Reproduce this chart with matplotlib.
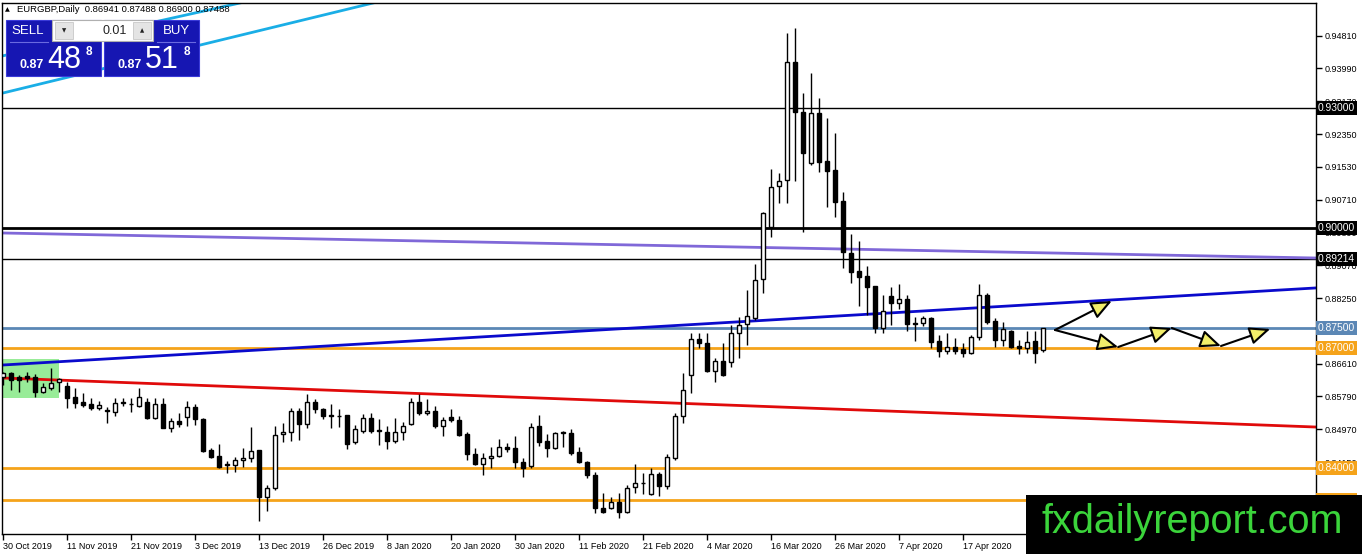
import numpy as np
import pandas as pd
import matplotlib
matplotlib.use("Agg")
import matplotlib.pyplot as plt
from matplotlib.patches import Rectangle
from matplotlib.transforms import blended_transform_factory

plt.rcParams['font.family'] = ['Liberation Sans', 'DejaVu Sans']

# ---------------- data ----------------
opens = [0.86275, 0.86375, 0.86275, 0.863, 0.86275, 0.859, 0.86, 0.8615, 0.8605, 0.85775,
         0.8565, 0.856, 0.855, 0.8545, 0.854, 0.8565, 0.856, 0.8555, 0.8565, 0.8525,
         0.856, 0.85, 0.85175, 0.85275, 0.85525, 0.85225, 0.8445, 0.843, 0.841, 0.84075,
         0.842, 0.8425, 0.8445, 0.83275, 0.835, 0.8485, 0.849, 0.85425, 0.851, 0.8565,
         0.85475, 0.85325, 0.85312, 0.85325, 0.8465, 0.84925, 0.8525, 0.8495, 0.849, 0.84675,
         0.849, 0.851, 0.8565, 0.85375, 0.85425, 0.8505, 0.85275, 0.852, 0.8485, 0.8435,
         0.841, 0.8425, 0.843, 0.84525, 0.845, 0.8415, 0.8405, 0.8505, 0.84675, 0.845,
         0.84875, 0.84875, 0.844, 0.8415, 0.83825, 0.83, 0.83, 0.8315, 0.829, 0.83525,
         0.83625, 0.8335, 0.8385, 0.8355, 0.8425, 0.853, 0.86325, 0.87225, 0.87125, 0.86425,
         0.86675, 0.8665, 0.87375, 0.876, 0.8775, 0.88725, 0.90025, 0.9105, 0.912, 0.9415,
         0.929, 0.91625, 0.92875, 0.91675, 0.9145, 0.90675, 0.89375, 0.88925, 0.888, 0.8855,
         0.875, 0.883, 0.88125, 0.88225, 0.87625, 0.87625, 0.8775, 0.87175, 0.86925, 0.87025,
         0.86975, 0.86875, 0.87275, 0.88325, 0.87675, 0.872, 0.87425, 0.8705, 0.87, 0.87175,
         0.86941]
highs = [0.864, 0.864, 0.86325, 0.864, 0.8635, 0.86125, 0.865, 0.8625, 0.8615, 0.86,
         0.85875, 0.8575, 0.85675, 0.85525, 0.8575, 0.8575, 0.8575, 0.86, 0.8575, 0.8575,
         0.8575, 0.8525, 0.85375, 0.85675, 0.856, 0.8525, 0.845, 0.846, 0.84175, 0.84275,
         0.845, 0.85025, 0.8445, 0.83575, 0.8505, 0.85125, 0.855, 0.855, 0.8585, 0.85725,
         0.855, 0.856, 0.85475, 0.85325, 0.85075, 0.8535, 0.85375, 0.85225, 0.8505, 0.8525,
         0.8515, 0.8575, 0.8585, 0.85725, 0.8555, 0.85275, 0.85475, 0.853, 0.849, 0.845,
         0.84375, 0.84525, 0.84725, 0.84625, 0.848, 0.8425, 0.85125, 0.85325, 0.8485, 0.849,
         0.84925, 0.84975, 0.84525, 0.84175, 0.839, 0.83375, 0.83275, 0.83375, 0.83575, 0.841,
         0.83875, 0.84, 0.839, 0.8435, 0.85375, 0.86375, 0.87375, 0.87375, 0.87375, 0.8675,
         0.87125, 0.87575, 0.87775, 0.8845, 0.891, 0.904, 0.91475, 0.91375, 0.94875, 0.95,
         0.93375, 0.93875, 0.9325, 0.9275, 0.92375, 0.909, 0.8985, 0.89675, 0.8905, 0.8855,
         0.88325, 0.88525, 0.886, 0.88325, 0.87775, 0.878, 0.87775, 0.87325, 0.87375, 0.8725,
         0.87125, 0.87325, 0.886, 0.88375, 0.8775, 0.8765, 0.8745, 0.872, 0.87425, 0.87425,
         0.87488]
lows = [0.86075, 0.8595, 0.859, 0.8615, 0.85775, 0.85875, 0.8595, 0.859, 0.855, 0.855,
        0.85525, 0.8545, 0.8545, 0.85125, 0.853, 0.8555, 0.854, 0.85525, 0.85225, 0.85225,
        0.85, 0.849, 0.85025, 0.8505, 0.85075, 0.844, 0.8425, 0.84, 0.83875, 0.839,
        0.84025, 0.8415, 0.82675, 0.82925, 0.8345, 0.8465, 0.84675, 0.847, 0.85, 0.85375,
        0.85225, 0.85, 0.85025, 0.84475, 0.846, 0.84875, 0.84875, 0.84575, 0.84475, 0.84625,
        0.847, 0.85075, 0.85325, 0.85325, 0.85, 0.848, 0.8515, 0.848, 0.842, 0.84075,
        0.83825, 0.84, 0.84275, 0.844, 0.84, 0.83775, 0.84, 0.8455, 0.84275, 0.84475,
        0.84525, 0.84325, 0.84125, 0.8375, 0.82875, 0.82875, 0.82975, 0.8275, 0.82875, 0.83375,
        0.8335, 0.83325, 0.833, 0.83475, 0.842, 0.85125, 0.85875, 0.87, 0.864, 0.8615,
        0.863, 0.86525, 0.8675, 0.87075, 0.877, 0.88375, 0.89775, 0.90625, 0.90625, 0.91175,
        0.899, 0.91575, 0.914, 0.90525, 0.90275, 0.89, 0.88625, 0.8805, 0.87825, 0.87375,
        0.87375, 0.87575, 0.87975, 0.87425, 0.87175, 0.8755, 0.87, 0.86775, 0.8685, 0.8685,
        0.86775, 0.8685, 0.872, 0.876, 0.87025, 0.8705, 0.87, 0.8685, 0.86875, 0.86625,
        0.869]
closes = [0.86375, 0.862, 0.862, 0.8625, 0.859, 0.86025, 0.86125, 0.86225, 0.8575, 0.85625,
          0.85575, 0.855, 0.85575, 0.85425, 0.85625, 0.85637, 0.85595, 0.85775, 0.8525, 0.856,
          0.85, 0.85175, 0.851, 0.85525, 0.85225, 0.84425, 0.84275, 0.84025, 0.84075, 0.842,
          0.8425, 0.84425, 0.83275, 0.835, 0.84825, 0.849, 0.85425, 0.851, 0.8565, 0.85475,
          0.853, 0.853, 0.853, 0.846, 0.84975, 0.8525, 0.84925, 0.84925, 0.84675, 0.849,
          0.8505, 0.8565, 0.85375, 0.85425, 0.8505, 0.852, 0.852, 0.84825, 0.8435, 0.841,
          0.8425, 0.843, 0.84525, 0.84475, 0.8415, 0.84, 0.85025, 0.8465, 0.845, 0.84875,
          0.84888, 0.84375, 0.8415, 0.83825, 0.83, 0.829, 0.8315, 0.829, 0.835, 0.83625,
          0.83637, 0.8385, 0.8355, 0.84275, 0.853, 0.8595, 0.87225, 0.87125, 0.86425, 0.86675,
          0.86325, 0.87375, 0.87575, 0.878, 0.887, 0.90375, 0.91025, 0.91175, 0.9415, 0.929,
          0.91875, 0.92875, 0.9165, 0.91425, 0.9065, 0.894, 0.889, 0.88775, 0.88525, 0.875,
          0.87925, 0.88125, 0.88225, 0.876, 0.876, 0.8775, 0.8715, 0.86925, 0.87025, 0.86925,
          0.86875, 0.87275, 0.88325, 0.8765, 0.872, 0.87475, 0.87025, 0.87, 0.8715, 0.86875,
          0.87488]

holidays = ['2019-12-25', '2020-01-01']
y_ticks = [0.84150, 0.84970, 0.85790, 0.86610, 0.87430, 0.88250, 0.89070,
           0.89890, 0.90710, 0.91530, 0.92350, 0.93170, 0.93990, 0.94810]

# horizontal levels: (price, colour, width, label, label face)
levels = [(0.93000, 'black', 1.0, '0.93000', 'black'),
          (0.90000, 'black', 2.0, '0.90000', 'black'),
          (0.89214, 'black', 1.0, '0.89214', 'black'),
          (0.87500, '#5b87b5', 2.0, '0.87500', '#5b87b5'),
          (0.87000, '#f5a31a', 2.0, '0.87000', '#f5a31a'),
          (0.84000, '#f5a31a', 2.0, '0.84000', '#f5a31a'),
          (0.83200, '#f5a31a', 2.0, '0.83200', '#f5a31a')]

# trend lines: (bar0, price0, bar1, price1, colour, width)
trendlines = [(0, 0.86575, 164, 0.88500, '#0a0acc', 2.0),
              (0, 0.86250, 164, 0.85025, '#e00a0a', 2.0),
              (0, 0.89875, 164, 0.89250, '#8068d8', 2.0),
              (0, 0.93375, 46.25, 0.95625, '#1aaee6', 2.0),
              (21.75, 0.95275, 29.6, 0.95625, '#1aaee6', 2.0)]

# green zone (bars, prices)
zone_bars = [-0.2, 7.0]
zone_prices = [0.85750, 0.86725]

# projection arrows (bar, price)
arrow_up = [(131.5, 0.87450), (138.6, 0.88175)]
arrow_path_bars = [131.5, 139.4, 146.1, 152.25, 158.4]
arrow_path_prices = [0.87450, 0.87025, 0.87500, 0.87050, 0.87475]

# ---------------- figure ----------------
W, H = 1362, 554
fig = plt.figure(figsize=(W / 100, H / 100), dpi=100)
fig.patch.set_facecolor('white')
ax = fig.add_axes([2 / W, (H - 534) / H, (1316 - 2) / W, (534 - 3) / H])

o = np.array(opens); h = np.array(highs); l = np.array(lows); c = np.array(closes)
h = np.maximum(h, np.maximum(o, c)); l = np.minimum(l, np.minimum(o, c))
n = len(o)
x = np.arange(n)
dates = [d for d in pd.bdate_range('2019-10-30', '2020-05-10') if d.strftime('%Y-%m-%d') not in holidays][:n]

ax.set_xlim(-0.125, 164.125)
ax.set_ylim(0.8235, 0.95625)

# zone
ax.add_patch(Rectangle((zone_bars[0], zone_prices[0]), zone_bars[1] - zone_bars[0],
                       zone_prices[1] - zone_prices[0], fc='#98ec98', ec='none', zorder=1))

for p, col, lw, lab, fcol in levels:
    ax.axhline(p, color=col, lw=lw, zorder=2)

for b0, p0, b1, p1, col, lw in trendlines:
    slope = (p1 - p0) / (b1 - b0)
    xs = np.array([-5, 170])
    ax.plot(xs, p0 + slope * (xs - b0), color=col, lw=lw, zorder=2.2, solid_capstyle='butt')

# candles
up = c >= o
bw = 0.62
ax.vlines(x, l, h, color='black', lw=1, zorder=3)
bot = np.minimum(o, c)
hgt = np.maximum(np.abs(c - o), 0.00003)
ax.bar(x[up], hgt[up], bottom=bot[up], width=bw, color='white', edgecolor='black', lw=1, zorder=4)
ax.bar(x[~up], hgt[~up], bottom=bot[~up], width=bw, color='black', edgecolor='black', lw=1, zorder=4)

# arrows
aprops = dict(arrowstyle='-|>,head_length=0.7,head_width=0.3', facecolor='#f2ee6a',
              edgecolor='black', lw=1.5, mutation_scale=18, shrinkA=0, shrinkB=0)
ax.annotate('', xy=arrow_up[1], xytext=arrow_up[0], arrowprops=aprops, annotation_clip=False, zorder=6)
for i in range(len(arrow_path_bars) - 1):
    ax.annotate('', xy=(arrow_path_bars[i + 1], arrow_path_prices[i + 1]),
                xytext=(arrow_path_bars[i], arrow_path_prices[i]),
                arrowprops=aprops, annotation_clip=False, zorder=6)

# axes styling
for s in ax.spines.values():
    s.set_color('black'); s.set_linewidth(1)
ax.yaxis.tick_right()
ax.set_yticks(y_ticks)
ax.set_yticklabels([f'{v:.5f}' for v in y_ticks])
ax.tick_params(axis='y', direction='out', length=4, width=1, pad=2, labelsize=6.5, colors='black')
tick_idx = list(range(0, n, 8))
ax.set_xticks(tick_idx)
ax.set_xticklabels([f'{dates[i].day} {dates[i]:%b %Y}' for i in tick_idx])
ax.tick_params(axis='x', direction='out', length=4, width=1, pad=1.5, labelsize=6.5)
for t in ax.get_xticklabels():
    t.set_ha('left')

# right-hand price labels
tr = blended_transform_factory(ax.transAxes, ax.transData)
for p, col, lw, lab, fcol in levels:
    ax.text(1.0015, p, lab, transform=tr, ha='left', va='center', color='white', fontsize=7.4,
            bbox=dict(boxstyle='square,pad=0.2', fc=fcol, ec='none'), zorder=7, clip_on=False)

# ---------------- overlay (terminal chrome, watermark) ----------------
ov = fig.add_axes([0, 0, 1, 1], zorder=10)
ov.set_xlim(0, W); ov.set_ylim(H, 0); ov.axis('off'); ov.patch.set_alpha(0)

ov.text(5, 10, '▲', fontsize=4.5, va='center', ha='left', color='black', family=['DejaVu Sans'])
ov.text(17, 10, 'EURGBP,Daily  0.86941 0.87488 0.86900 0.87488', fontsize=6.8, va='center', ha='left')

blue = '#1616b2'
ov.add_patch(Rectangle((6, 20), 95, 56, fc=blue, ec='#3a3ad8', lw=0.8))
ov.add_patch(Rectangle((104, 20), 95, 56, fc=blue, ec='#3a3ad8', lw=0.8))
ov.add_patch(Rectangle((52, 20), 101, 21, fc='white', ec='#b0b0b0', lw=0.8))
ov.add_patch(Rectangle((55, 22), 18, 17, fc='#e4e4e4', ec='#c8c8c8', lw=0.6))
ov.add_patch(Rectangle((133, 22), 18, 17, fc='#e4e4e4', ec='#c8c8c8', lw=0.6))
ov.text(64, 30.5, '▼', fontsize=4, ha='center', va='center', color='#222222', family=['DejaVu Sans'])
ov.text(142, 30.5, '▲', fontsize=4, ha='center', va='center', color='#222222', family=['DejaVu Sans'])
ov.text(127, 31, '0.01', fontsize=9, ha='right', va='center', color='#222222')
ov.text(28, 31, 'SELL', fontsize=9.5, ha='center', va='center', color='white')
ov.text(176, 31, 'BUY', fontsize=9.5, ha='center', va='center', color='white')
ov.plot([10, 48], [42, 42], color='#6a6ae0', lw=0.8)
ov.plot([157, 195], [42, 42], color='#6a6ae0', lw=0.8)
for x0, big in ((20, '48'), (118, '51')):
    ov.text(x0, 68, '0.87', fontsize=9, fontweight='bold', ha='left', va='baseline', color='white')
    ov.text(x0 + 27, 68, big, fontsize=22, ha='left', va='baseline', color='white')
    ov.text(x0 + 66, 55, '8', fontsize=8.5, fontweight='bold', ha='left', va='baseline', color='white')

ov.add_patch(Rectangle((1026, 495), W - 1026, H - 495, fc='black', ec='none'))
ov.text(1042, 533, 'fxdailyreport.com', fontsize=28.5, color='#3bd43b', ha='left', va='baseline')

fig.savefig('out.png', dpi=100, facecolor='white')
